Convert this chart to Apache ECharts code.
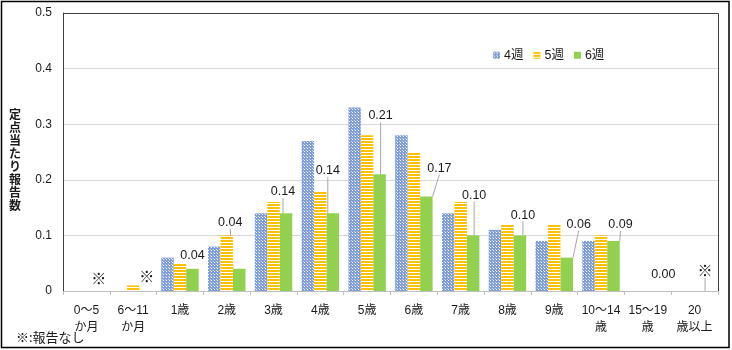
<!DOCTYPE html>
<html><head><meta charset="utf-8">
<script src="https://cdn.jsdelivr.net/npm/echarts@6/dist/echarts.min.js"></script>
<style>html,body{margin:0;padding:0;background:#fff}#c{width:732px;height:350px}</style>
</head><body><div id="c"></div>
<script>
const categories = ['0～5\nか月','6～11\nか月','1歳','2歳','3歳','4歳','5歳','6歳','7歳','8歳','9歳','10～14\n歳','15～19\n歳','20\n歳以上'];
const seriesNames = ['4週','5週','6週'];
const week4 = [null, 0, 0.06, 0.08, 0.14, 0.27, 0.33, 0.28, 0.14, 0.11, 0.09, 0.09, 0, null];
const week5 = [null, 0.01, 0.05, 0.10, 0.16, 0.18, 0.28, 0.25, 0.16, 0.12, 0.12, 0.10, 0, null];
const week6 = [null, null, 0.04, 0.04, 0.14, 0.14, 0.21, 0.17, 0.10, 0.10, 0.06, 0.09, 0.00, null];
const noReportMark = '※';
const yTicks = [0, 0.1, 0.2, 0.3, 0.4, 0.5];
const yAxisTitle = '定点当たり報告数';
const footnote = '※:報告なし';

// label layout (style, not data)
const labelShift = [[0,0],[1,-2],[0,-2],[-9,-35],[-3,-10],[-5,-31],[1,-47],[13,-17],[1,-29],[3,-9],[12,-22],[7,-5],[3,-5],[-2,-8]];
const labelLineOn = [false,false,false,true,true,true,true,true,true,true,true,true,false,true];

function makePattern(w, h, draw) {
  const c = document.createElement('canvas');
  c.width = w; c.height = h;
  const ctx = c.getContext('2d');
  draw(ctx);
  return {image: c, repeat: 'repeat'};
}
const pat4 = makePattern(3, 3, ctx => {
  ctx.fillStyle = '#7F9ED9'; ctx.fillRect(0,0,3,3);
  ctx.fillStyle = '#FFFFFF'; ctx.fillRect(1,1,1,1);
  ctx.fillStyle = '#C9D6F0'; ctx.fillRect(0,0,1,1);
});
const pat5 = makePattern(4, 3, ctx => {
  ctx.fillStyle = '#FFFFFF'; ctx.fillRect(0,0,4,3);
  ctx.fillStyle = '#FFC000'; ctx.fillRect(0,0,4,2);
});
const green = '#92D050';

const font = "'Liberation Sans', 'Noto Sans CJK JP', sans-serif";
const cjk = "'Noto Sans CJK JP', sans-serif";
const textColor = '#1a1a1a';

const w6data = week6.map((v, i) => ({
  value: v === null ? 0 : v,
  noReport: v === null,
  labelLine: {show: labelLineOn[i]}
}));

const chart = echarts.init(document.getElementById('c'), null, {renderer: 'canvas'});
chart.setOption({
  animation: false,
  textStyle: {fontFamily: font},
  grid: {left: 63, right: 14, top: 13, bottom: 59},
  legend: {
    data: seriesNames,
    left: 488, top: 44,
    itemWidth: 7, itemHeight: 7, itemGap: 10,
    icon: 'rect',
    textStyle: {fontSize: 12.5, color: textColor, fontFamily: font, padding: [0,0,0,-1]}
  },
  xAxis: {
    type: 'category',
    data: categories,
    axisLine: {lineStyle: {color: '#BFBFBF'}},
    axisTick: {show: true, length: 4, lineStyle: {color: '#BFBFBF'}},
    axisLabel: {color: textColor, fontSize: 12, margin: 11, lineHeight: 17, interval: 0, fontFamily: font}
  },
  yAxis: {
    type: 'value',
    min: yTicks[0], max: yTicks[yTicks.length - 1], interval: 0.1,
    axisLine: {show: true, lineStyle: {color: '#404040'}},
    axisTick: {show: false},
    splitLine: {lineStyle: {color: '#D9D9D9'}},
    axisLabel: {color: textColor, fontSize: 12, margin: 11, fontFamily: font,
      formatter: v => v === 0 ? '0' : v.toFixed(1)}
  },
  series: [
    {name: seriesNames[0], type: 'bar', data: week4, barGap: '0%', barCategoryGap: '20%',
     itemStyle: {color: pat4}},
    {name: seriesNames[1], type: 'bar', data: week5, barGap: '0%', barCategoryGap: '20%',
     itemStyle: {color: pat5}},
    {name: seriesNames[2], type: 'bar', data: w6data, barGap: '0%', barCategoryGap: '20%',
     itemStyle: {color: green},
     label: {show: true, position: 'top', distance: 5, fontSize: 12.5, color: textColor, fontFamily: font,
       formatter: p => p.data.noReport ? '{m|' + noReportMark + '}' : p.value.toFixed(2),
       rich: {m: {fontSize: 15, fontFamily: cjk, color: textColor}}},
     labelLine: {show: true, lineStyle: {color: '#A6A6A6', width: 1}},
     labelLayout: p => ({dx: labelShift[p.dataIndex][0], dy: labelShift[p.dataIndex][1]})
    }
  ],
  graphic: [
    {type: 'polyline', z: 100, silent: true,
     shape: {points: [[63.5, 291], [63.5, 13.5], [718.5, 13.5], [718.5, 291]]},
     style: {stroke: '#404040', lineWidth: 1, fill: null}},
    {type: 'rect', z: 100, silent: true,
     shape: {x: 1.5, y: 1.5, width: 727.5, height: 346},
     style: {stroke: '#000', lineWidth: 1.5, fill: null}},
    {type: 'text', z: 100, left: 9, top: 108,
     style: {text: yAxisTitle.split('').join('\n'), fontSize: 12, lineHeight: 13, fill: textColor,
       fontFamily: cjk, fontWeight: 'bold'}},
    {type: 'text', z: 100, left: 16, top: 331,
     style: {text: footnote, fontSize: 13, fill: textColor, fontFamily: cjk}}
  ]
});
</script></body></html>
